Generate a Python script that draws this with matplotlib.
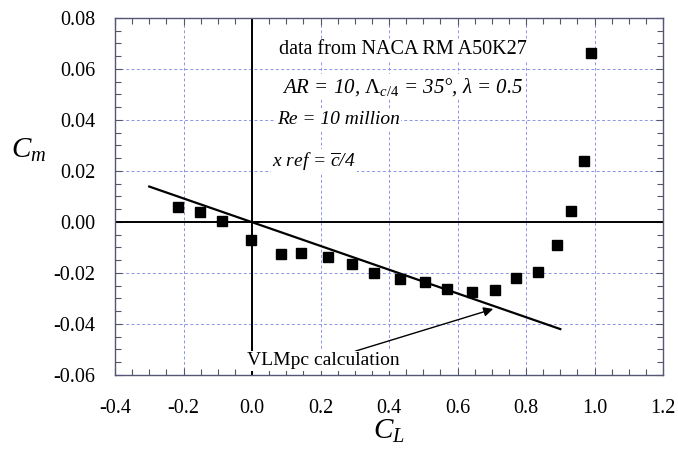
import numpy as np
import matplotlib.pyplot as plt
from matplotlib.ticker import MultipleLocator

plt.rcParams['font.family'] = 'Liberation Serif'
plt.rcParams['mathtext.fontset'] = 'custom'
plt.rcParams['mathtext.rm'] = 'Liberation Serif'
plt.rcParams['mathtext.it'] = 'Liberation Serif:italic'

# --- data (NACA RM A50K27) ---
cl_data = [-0.215, -0.151, -0.087, -0.002, 0.085, 0.144, 0.222, 0.293, 0.357,
           0.433, 0.506, 0.569, 0.643, 0.708, 0.771, 0.836, 0.889, 0.931, 0.970, 0.991]
cm_data = [0.0060, 0.0038, 0.0003, -0.0071, -0.0127, -0.0123, -0.0139, -0.0165, -0.0201,
           -0.0224, -0.0237, -0.0263, -0.0276, -0.0268, -0.0220, -0.0195, -0.0090, 0.0042, 0.0239, 0.0661]

# VLMpc calculation (straight line)
cl_vlm = [-0.30, 0.90]
cm_vlm = [0.0139, -0.0420]

xticks = [-0.4, -0.2, 0.0, 0.2, 0.4, 0.6, 0.8, 1.0, 1.2]
yticks = [-0.06, -0.04, -0.02, 0.00, 0.02, 0.04, 0.06, 0.08]

fig = plt.figure(figsize=(6.78, 4.5), dpi=100)
ax = fig.add_axes([0.1696, 0.1667, 0.8084, 0.7933])

grid_col = '#8c94e8'
ax.grid(True, which='major', color=grid_col, linestyle=(0, (3, 2.5)), linewidth=0.7)
ax.axhline(0, color='black', lw=1.4, zorder=2)
ax.axvline(0, color='black', lw=1.4, zorder=2)

ax.plot(cl_vlm, cm_vlm, color='black', lw=1.6, zorder=3)
ax.plot(cl_data, cm_data, 's', color='black', markersize=7, zorder=4)

ax.set_xlim(-0.4, 1.2)
ax.set_ylim(-0.06, 0.08)
ax.xaxis.set_minor_locator(MultipleLocator(0.05))
ax.yaxis.set_minor_locator(MultipleLocator(0.005))
ax.set_xticks(xticks)
ax.set_xticklabels([f'{v:.1f}' for v in xticks])
ax.set_yticks(yticks)
ax.set_yticklabels([f'{v:.2f}' for v in yticks])
ax.tick_params(which='both', direction='in', top=True, right=True, colors='#555566',
               labelcolor='black', labelsize=14.5)
ax.tick_params(which='major', length=5, width=0.8)
ax.tick_params(which='minor', length=4, width=0.8)
ax.tick_params(axis='x', pad=17)
ax.tick_params(axis='y', pad=14)
for s in ax.spines.values():
    s.set_color('#555577')
    s.set_linewidth(1.0)

ax.set_xlabel(r'$C_L$', fontsize=21, labelpad=0)
ax.set_ylabel(r'$C_m$', fontsize=21, rotation=0, va='center', ha='center')
ax.yaxis.set_label_coords(-0.157, 0.63)

box = dict(facecolor='white', edgecolor='none', pad=1)
ax.text(0.441, 0.0675, 'data from NACA RM A50K27', fontsize=14.5, ha='center', va='center',
        bbox=box, zorder=5)
ax.text(0.441, 0.053, r'AR = 10, $\mathit{\Lambda}_{c/4}$ = 35°, λ = 0.5', fontsize=15,
        ha='center', va='center', style='italic', bbox=box, zorder=5)
ax.text(0.073, 0.040, 'Re = 10 million', fontsize=14, ha='left', va='center',
        style='italic', bbox=box, zorder=5)
ax.text(0.058, 0.0239, r'x ref = $\overline{c}$/4', fontsize=14, ha='left', va='center',
        style='italic', bbox=box, zorder=5)

ax.annotate('VLMpc calculation', xy=(0.704, -0.0341), xytext=(-0.015, -0.0545),
            fontsize=14, ha='left', va='center', bbox=box, zorder=5,
            arrowprops=dict(arrowstyle='-|>', color='black', lw=1.0,
                            shrinkA=0, shrinkB=0, mutation_scale=14),
            annotation_clip=False)

fig.savefig('out.png', dpi=100)
